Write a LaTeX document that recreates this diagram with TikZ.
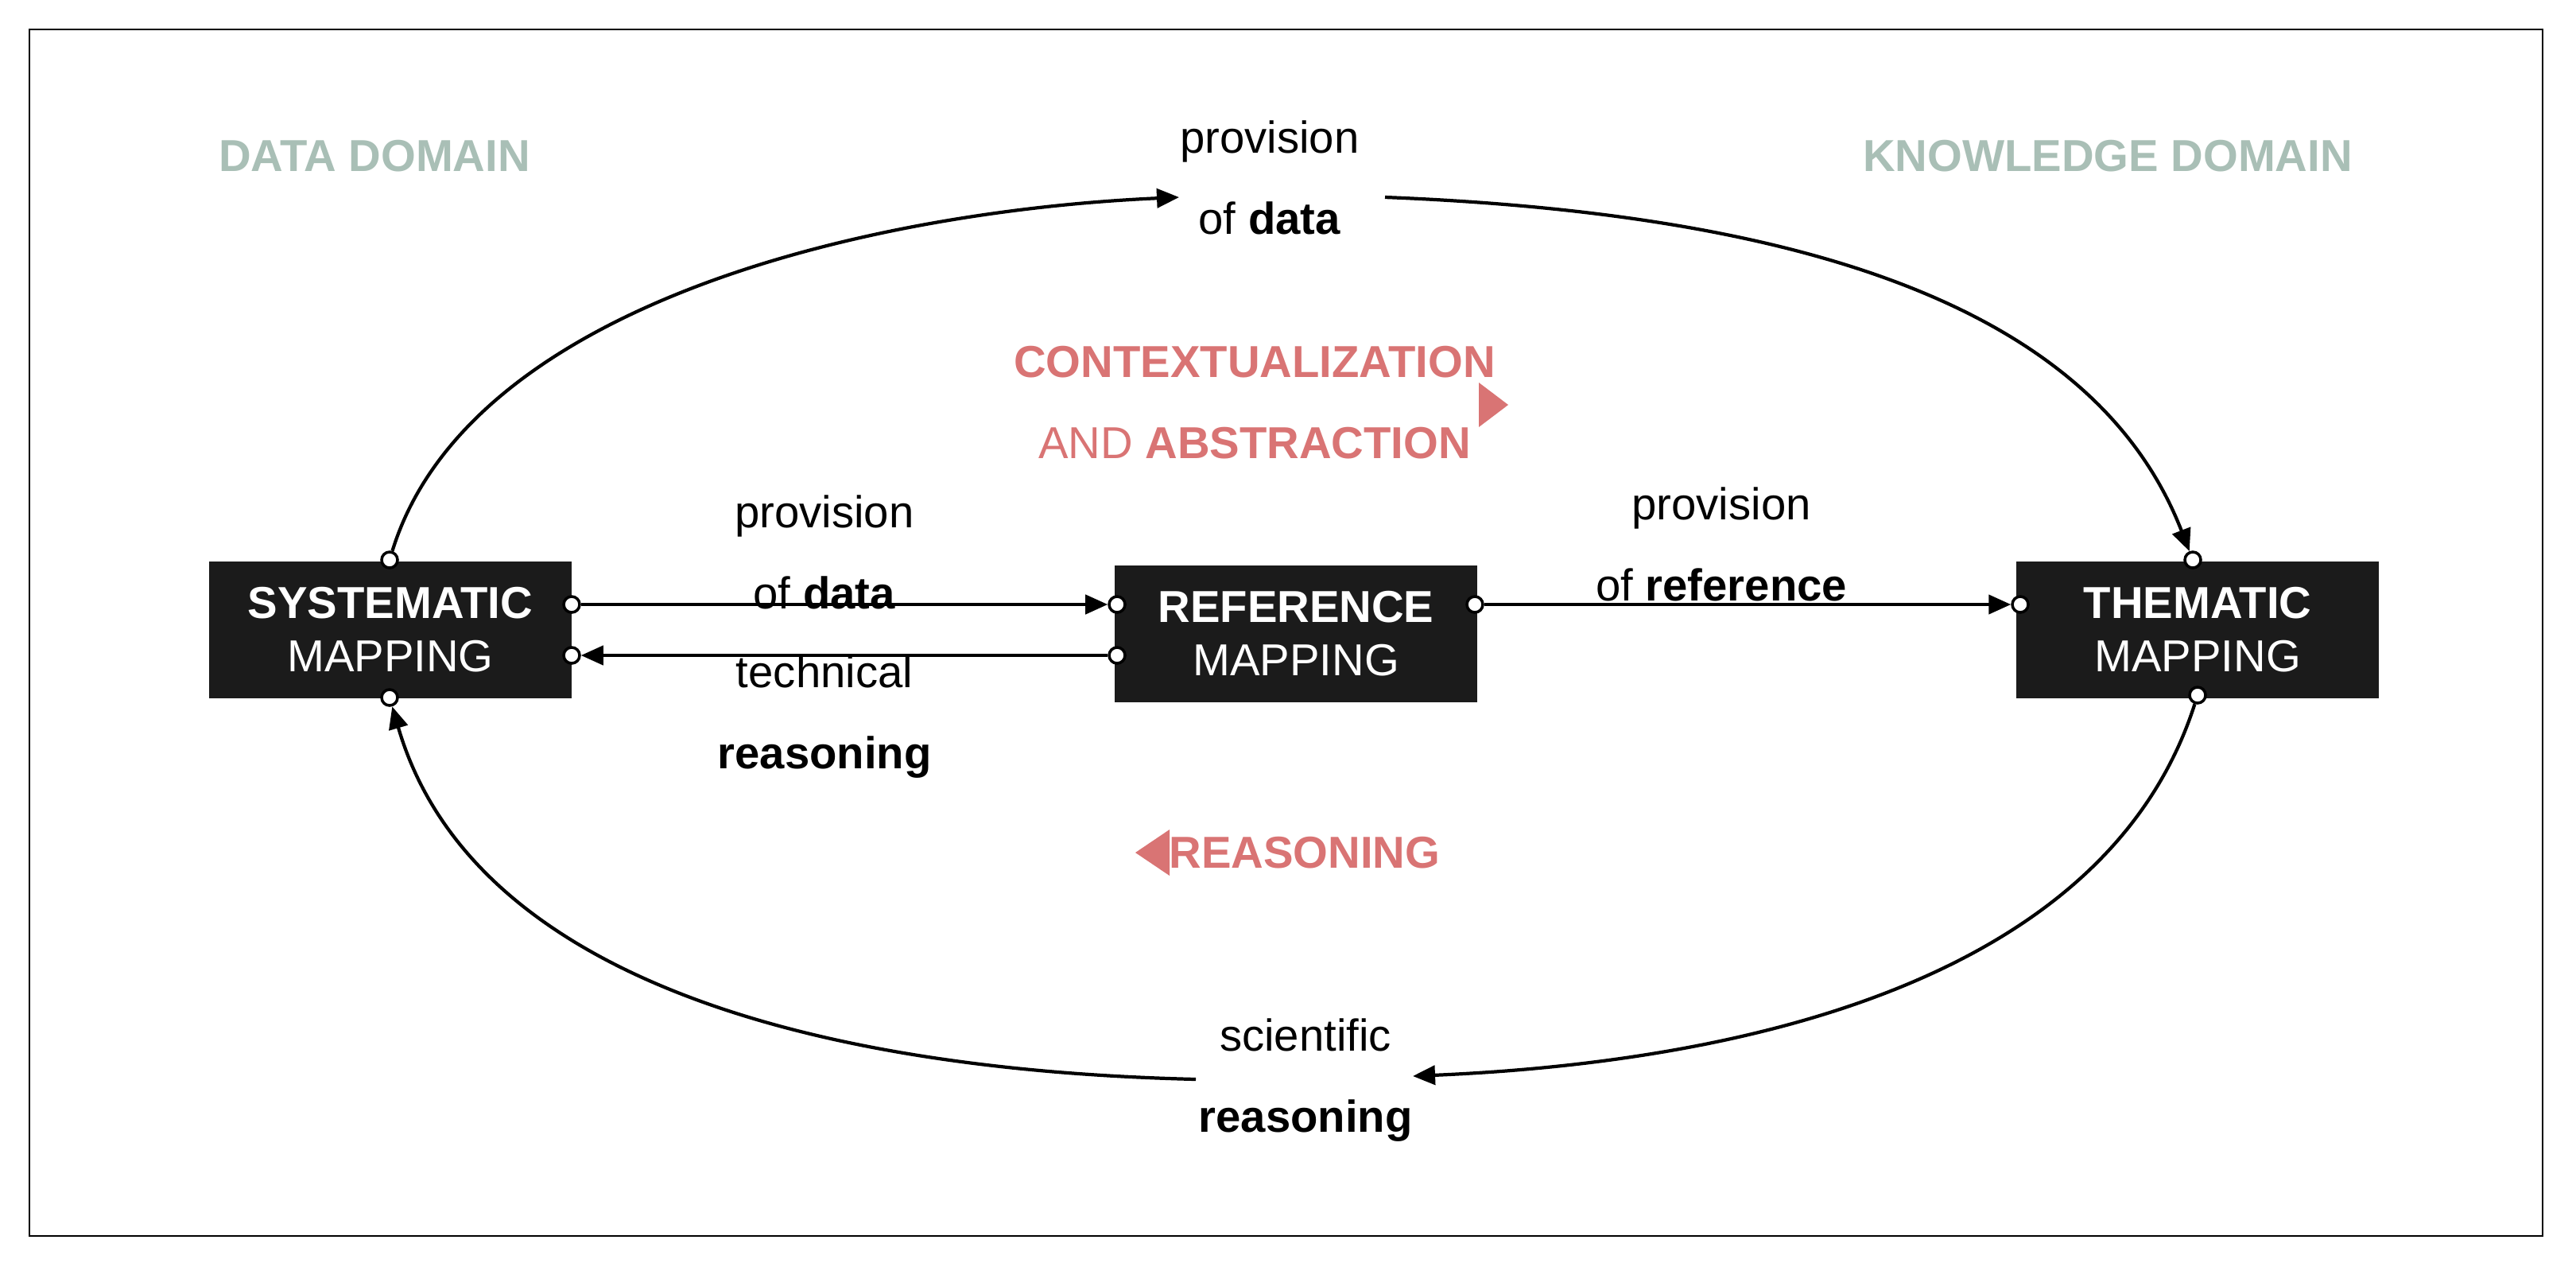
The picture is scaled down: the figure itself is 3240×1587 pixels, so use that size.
\documentclass[tikz,border=0pt]{standalone}
\usepackage{fontspec}
\setmainfont{Liberation Sans}
\usetikzlibrary{arrows.meta}
\definecolor{boxc}{HTML}{1B1B1B}
\definecolor{domc}{HTML}{A9BFB6}
\definecolor{redc}{HTML}{D97474}
\begin{document}
\begin{tikzpicture}[x=0.01cm,y=-0.01cm,
  box/.style={fill=boxc,text=white,minimum width=4.55cm,minimum height=1.72cm,align=center,font=\fontsize{16}{19}\selectfont,inner sep=0pt},
  port/.style={circle,draw=black,fill=white,line width=1pt,inner sep=0pt,minimum size=0.2cm},
  lbl/.style={align=center,font=\fontsize{16}{29}\selectfont},
  dom/.style={text=domc,font=\fontsize{16}{19}\selectfont\bfseries},
  red/.style={text=redc,font=\fontsize{16}{29}\selectfont,align=center},
  con/.style={line width=1.2pt,-{Triangle[length=0.28cm,width=0.24cm]}},
  pl/.style={line width=1.2pt}]
\useasboundingbox (0,0) rectangle (3240,1587);
\draw[line width=0.8pt] (37,37) rectangle (3198,1554);
\node[box] (sys) at (491,792) {\textbf{SYSTEMATIC}\\MAPPING};
\node[box] (ref) at (1630,797) {\textbf{REFERENCE}\\MAPPING};
\node[box] (the) at (2764,792) {\textbf{THEMATIC}\\MAPPING};
\node[port] (s1) at (719,760) {};
\node[port] (s2) at (719,824) {};
\node[port] (st) at (490,704) {};
\node[port] (sb) at (490,877) {};
\node[port] (r1) at (1405,760) {};
\node[port] (r2) at (1405,824) {};
\node[port] (r3) at (1855,760) {};
\node[port] (t1) at (2541,760) {};
\node[port] (tt) at (2758,704) {};
\node[port] (tb) at (2764,874) {};
\coordinate (a1) at (1483,248);
\coordinate (a2) at (1742,248);
\coordinate (b1) at (1777,1353);
\coordinate (b2) at (1504,1357);
\draw[con] (s1) -- (r1);
\draw[con] (r2) -- (s2);
\draw[con] (r3) -- (t1);
\draw[con] (st) .. controls (590,380) and (1100,265) .. (a1);
\draw[con] (a2) .. controls (2300,270) and (2640,400) .. (tt);
\draw[con] (tb) .. controls (2650,1230) and (2200,1335) .. (b1);
\draw[con] (b2) .. controls (1000,1345) and (590,1220) .. (sb);
\node[lbl] (l1) at (1597,223) {provision\\of \textbf{data}};
\node[lbl] (l2) at (1037,694) {provision\\of \textbf{data}};
\node[lbl] (l3) at (1037,901) {technical\\\textbf{reasoning}};
\node[lbl] (l4) at (2165,684) {provision\\of \textbf{reference}};
\node[lbl] (l5) at (1642,1358) {scientific\\\textbf{reasoning}};
\node[dom] (d1) at (471,196) {DATA DOMAIN};
\node[dom] (d2) at (2651,196) {KNOWLEDGE DOMAIN};
\node[red] (c1) at (1578,506) {\textbf{CONTEXTUALIZATION}\\AND \textbf{ABSTRACTION}};
\node[red] (c2) at (1641,1072) {\textbf{REASONING}};
\fill[redc] (1860,481) -- (1897,509) -- (1860,537) -- cycle;
\fill[redc] (1471,1043) -- (1428,1072) -- (1471,1101) -- cycle;
\end{tikzpicture}
\end{document}
